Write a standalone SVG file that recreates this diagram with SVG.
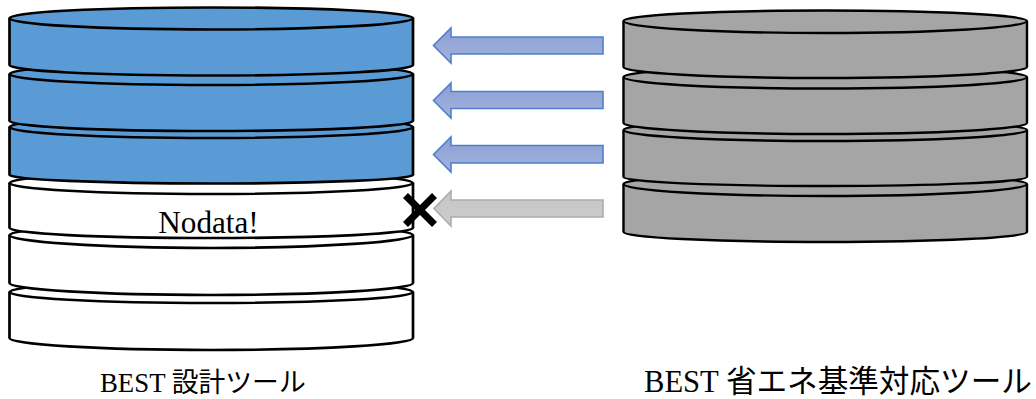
<svg xmlns="http://www.w3.org/2000/svg" width="1036" height="399" viewBox="0 0 1036 399">
<defs>
<linearGradient id="arrowBlue" x1="0" y1="0" x2="0" y2="1"><stop offset="0" stop-color="#8c9fd3"/><stop offset="1" stop-color="#a3b3de"/></linearGradient>
<linearGradient id="arrowGrey" x1="0" y1="0" x2="0" y2="1"><stop offset="0" stop-color="#c6c6c6"/><stop offset="1" stop-color="#cccccc"/></linearGradient>
</defs>
<style>
.disk path{stroke:#000;stroke-width:2.7;stroke-linejoin:round}
.blue path{fill:#5b9bd5}
.white path{fill:#fff}
.grey path{fill:#a5a5a5;stroke-width:2.4}
.a{stroke-width:1.6;stroke-linejoin:miter}
.ab{fill:url(#arrowBlue);stroke:#4f7fcc}
.ag{fill:url(#arrowGrey);stroke:#adadad}
text{fill:#000;font-family:"Liberation Serif","Noto Sans CJK JP",serif}
</style>

<g id="design-tool">
<g id="left-disk-6" class="disk white"><path d="M9.5 292C9.5 286 100 281 211 281S413 286 413 292V338C413 344.500 323 350 211 350S9.500 344.500 9.500 338Z"/><path d="M9.500 292C9.500 298 100 303 211 303S413 298 413 292" style="fill:none"/></g>
<g id="left-disk-5" class="disk white"><path d="M9.500 235C9.500 229 100 224 211 224S413 229 413 235V283C413 289.500 323 295 211 295S9.500 289.500 9.500 283Z"/><path d="M9.500 235C9.500 241.500 100 248 211 248S413 241.500 413 235" style="fill:none"/></g>
<g id="left-disk-4" class="disk white"><path d="M9.500 183C9.500 177 100 172 211 172S413 177 413 183V228C413 233.500 323 238 211 238S9.500 233.500 9.500 228Z"/><path d="M9.500 183C9.500 189 100 194 211 194S413 189 413 183" style="fill:none"/><text x="208.500" y="232.500" font-size="31.200" text-anchor="middle">Nodata!</text></g>
<g id="left-disk-3" class="disk blue"><path d="M9.500 127C9.500 121 100 116 211 116S413 121 413 127V175C413 179.500 323 183.500 211 183.500S9.500 179.500 9.500 175Z"/><path d="M9.500 127C9.500 133 100 138 211 138S413 133 413 127" style="fill:none"/></g>
<g id="left-disk-2" class="disk blue"><path d="M9.500 74C9.500 68 100 63 211 63S413 68 413 74V121C413 126.500 323 131 211 131S9.500 126.500 9.500 121Z"/><path d="M9.500 74C9.500 80 100 85 211 85S413 80 413 74" style="fill:none"/></g>
<g id="left-disk-1" class="disk blue"><path d="M9.500 18C9.500 12 100 7.500 211 7.500S413 12 413 18V65C413 71 323 75.500 211 75.500S9.500 71 9.500 65Z"/><path d="M9.500 18C9.500 24.500 100 29.500 211 29.500S413 24.500 413 18" style="fill:none"/></g>
<text id="left-label" x="100" y="392" font-size="26.800">BEST 設計ツール</text>
</g>

<g id="energy-tool">
<g id="right-disk-4" class="disk grey"><path d="M623.500 184C623.500 178 714 173 825 173S1027 178 1027 184V232C1027 237.500 937 242 825 242S623.500 237.500 623.500 232Z"/><path d="M623.500 184C623.500 190.500 714 196 825 196S1027 190.500 1027 184" style="fill:none"/></g>
<g id="right-disk-3" class="disk grey"><path d="M623.500 130C623.500 124 714 119 825 119S1027 124 1027 130V177C1027 182 937 186 825 186S623.500 182 623.500 177Z"/><path d="M623.500 130C623.500 136 714 141 825 141S1027 136 1027 130" style="fill:none"/></g>
<g id="right-disk-2" class="disk grey"><path d="M623.500 77C623.500 71 714 66 825 66S1027 71 1027 77V123C1027 129 937 134 825 134S623.500 129 623.500 123Z"/><path d="M623.500 77C623.500 83.500 714 88.500 825 88.500S1027 83.500 1027 77" style="fill:none"/></g>
<g id="right-disk-1" class="disk grey"><path d="M623.500 21C623.500 15 714 10.500 825 10.500S1027 15 1027 21V67C1027 73 937 78 825 78S623.500 73 623.500 67Z"/><path d="M623.500 21C623.500 27.500 714 33 825 33S1027 27.500 1027 21" style="fill:none"/></g>
<text id="right-label" x="644" y="392" font-size="30.600">BEST 省エネ基準対応ツール</text>
</g>

<g id="connectors">
<path class="a ab" d="M603 37H451V28L433.500 45.500L451 63V54H603Z"/>
<path class="a ab" d="M603 91.500H451V83L433.500 100.500L451 118V108.500H603Z"/>
<path class="a ab" d="M603 145.500H451V137L433.500 154.500L451 172V163H603Z"/>
<path class="a ag" d="M603 200H451V191L434 208.500L451 226V217H603Z"/>
<path d="M405.500 195.500L434.500 224.500M434.500 195.500L405.500 224.500" fill="none" stroke="#000" stroke-width="7"/>
</g>
</svg>
